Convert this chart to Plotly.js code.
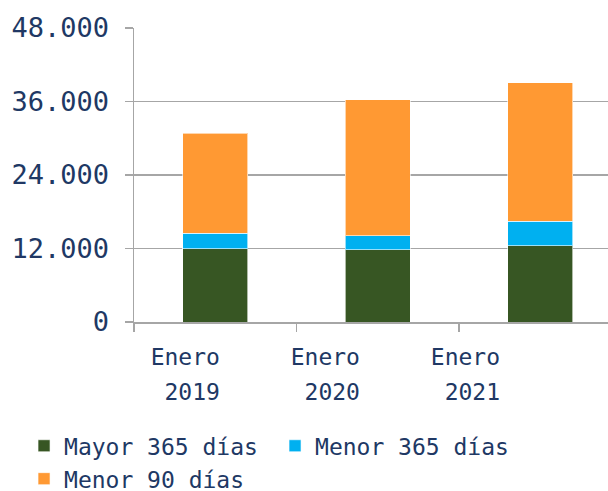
<!DOCTYPE html>
<html>
<head>
<meta charset="utf-8">
<script src="https://cdn.plot.ly/plotly-3.0.1.min.js"></script>
<style>html,body{margin:0;padding:0;background:#fff;overflow:hidden}#chart{width:608px;height:491px}</style>
</head>
<body>
<div id="chart"></div>
<script>
const categories = ["Enero 2019", "Enero 2020", "Enero 2021"];
const monthLabels = ["Enero", "Enero", "Enero"];
const yearLabels = ["\u00A02019", "\u00A02020", "\u00A02021"];
const seriesNames = ["Mayor 365 días", "Menor 365 días", "Menor 90 días"];
const mayor365 = [12000, 11770, 12430];
const menor365 = [2500, 2290, 4030];
const menor90 = [16300, 22190, 22620];
const yTicks = [0, 12000, 24000, 36000, 48000];

const textColor = "#203864";
const gray = "#a6a6a6";
const font = "DejaVu Sans Mono, Liberation Mono, monospace";
const colors = ["#375623", "#00b0f0", "#ff9933"];
const values = [mayor365, menor365, menor90];

const traces = values.map((v, i) => ({
  type: "bar", x: categories, y: v, name: seriesNames[i],
  marker: {color: colors[i], line: {color: "rgba(255,255,255,0.6)", width: 1}},
  xaxis: "x", yaxis: "y", hoverinfo: "none"
}));
// empty helper traces so the label-only axes get drawn
traces.push({type: "scatter", x: [], y: [], xaxis: "x2", yaxis: "y", showlegend: false, hoverinfo: "none"});
traces.push({type: "scatter", x: [], y: [], xaxis: "x3", yaxis: "y", showlegend: false, hoverinfo: "none"});

const layout = {
  width: 608, height: 491,
  margin: {l: 134, r: 0, t: 28, b: 169, pad: 0, autoexpand: false},
  paper_bgcolor: "#fff", plot_bgcolor: "#fff",
  barmode: "stack", bargap: 0.6,
  separators: ",.",
  font: {family: font, color: textColor, size: 23},
  showlegend: true,
  xaxis: {
    type: "category", range: [-0.5, 2.417], tickson: "boundaries",
    ticks: "outside", ticklen: 8, tickcolor: gray, tickwidth: 1.5,
    showticklabels: false, showline: true, linecolor: gray, linewidth: 1.5,
    showgrid: false, zeroline: false, fixedrange: true
  },
  xaxis2: {
    overlaying: "x", anchor: "y", side: "bottom", type: "linear",
    range: [-0.366, 3.018], tickmode: "array", tickvals: [0, 1, 2], ticktext: monthLabels,
    ticks: "", showline: false, showgrid: false, zeroline: false,
    tickfont: {family: font, size: 23, color: textColor}, ticklabelstandoff: 19
  },
  xaxis3: {
    overlaying: "x", anchor: "y", side: "bottom", type: "linear",
    range: [-0.366, 3.018], tickmode: "array", tickvals: [0, 1, 2], ticktext: yearLabels,
    ticks: "", showline: false, showgrid: false, zeroline: false,
    tickfont: {family: font, size: 23, color: textColor}, ticklabelstandoff: 54
  },
  yaxis: {
    range: [0, 48000], tickmode: "array", tickvals: yTicks, tickformat: ",d",
    ticks: "outside", ticklen: 8, tickcolor: gray, tickwidth: 1.5,
    showline: true, linecolor: gray, linewidth: 1.5,
    showgrid: true, gridcolor: gray, gridwidth: 1.5, zeroline: false,
    tickfont: {family: font, size: 27, color: textColor}, ticklabelstandoff: 10,
    fixedrange: true
  },
  legend: {
    orientation: "h", x: -0.232, xanchor: "left", y: -0.348, yanchor: "top",
    font: {family: font, size: 23, color: textColor},
    entrywidth: 206, entrywidthmode: "pixels", traceorder: "normal",
    bgcolor: "rgba(0,0,0,0)", itemclick: false
  }
};

Plotly.newPlot("chart", traces, layout, {staticPlot: true, displayModeBar: false});
</script>
</body>
</html>
